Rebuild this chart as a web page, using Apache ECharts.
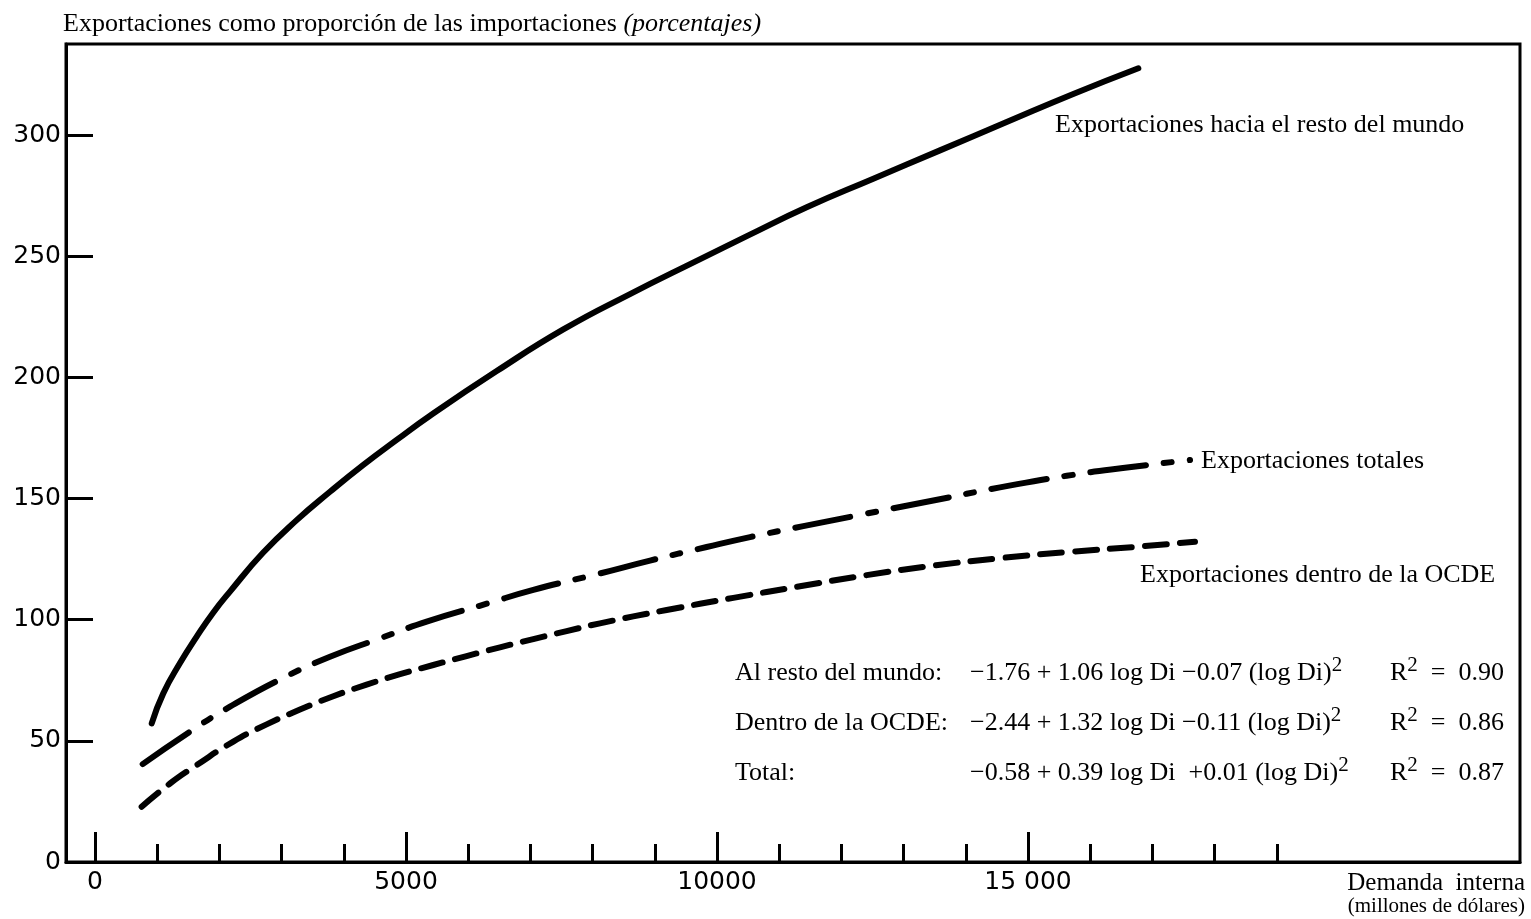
<!DOCTYPE html>
<html><head><meta charset="utf-8">
<script src="https://cdn.jsdelivr.net/npm/echarts@6/dist/echarts.min.js"></script>
<style>html,body{margin:0;padding:0;background:#fff}#c{width:1531px;height:919px}</style>
</head><body><div id="c"></div>
<script>
// ---- data ----
const restoX = [912, 1098, 1367, 1635, 1897, 2170, 2701, 3243, 3778, 4309, 4850, 5386, 6458, 7529, 8601, 9673, 10504, 11442, 12513, 13585, 14657, 15728, 16774];
const restoY = [57.2, 69.6, 82.1, 93.0, 102.8, 111.6, 127.6, 141.1, 152.8, 163.8, 174.2, 184.2, 202.6, 219.8, 234.4, 248.1, 258.6, 270.2, 282.0, 293.7, 305.4, 317.0, 327.6];

const totalX = [767, 1527, 2170, 3028, 3778, 4582, 5332, 6297, 7047, 8119, 8923, 9834, 10531, 11388, 12407, 13478, 14550, 15622, 16693, 17605];
const totalY = [40.4, 53.8, 64.1, 76.0, 84.7, 92.3, 99.2, 106.6, 112.3, 119.1, 124.4, 130.0, 134.1, 138.6, 143.8, 149.2, 154.6, 159.4, 163.1, 165.9];

const ocdeX = [750, 1206, 1635, 2224, 2760, 3296, 3831, 4367, 4904, 5439, 5975, 6511, 7047, 7583, 8119, 9191, 10263, 11334, 12407, 13478, 14550, 15622, 16693, 17685];
const ocdeY = [22.8, 32.4, 40.0, 49.7, 56.8, 62.9, 68.4, 73.2, 77.5, 81.3, 85.0, 88.6, 92.0, 95.3, 98.5, 104.0, 109.0, 113.8, 118.4, 122.3, 125.4, 127.9, 130.0, 132.2];

const yTicks = [0, 50, 100, 150, 200, 250, 300];
const yTickLabels = ['0', '50', '100', '150', '200', '250', '300'];
const xMinorTicks = [0, 1000, 2000, 3000, 4000, 5000, 6000, 7000, 8000, 9000, 10000, 11000, 12000, 13000, 14000, 15000, 16000, 17000, 18000, 19000];
const xMajorTicks = [0, 5000, 10000, 15000];
const xTickLabels = ['0', '5000', '10000', '15 000'];

const titleText = 'Exportaciones como proporción de las importaciones';
const titleUnit = '(porcentajes)';
const xNameLines = ['Demanda  interna', '(millones de dólares)'];
const curveLabels = ['Exportaciones hacia el resto del mundo', 'Exportaciones totales', 'Exportaciones dentro de la OCDE'];
const eqNames = ['Al resto del mundo:', 'Dentro de la OCDE:', 'Total:'];
const eqFormulas = ['−1.76 + 1.06 log Di −0.07 (log Di)', '−2.44 + 1.32 log Di −0.11 (log Di)', '−0.58 + 0.39 log Di  +0.01 (log Di)'];
const eqR2 = ['0.90', '0.86', '0.87'];

// ---- chart ----
const SERIF = '"Liberation Serif", "DejaVu Serif", serif';
const SANS = '"DejaVu Sans", sans-serif';
const pairs = (xs, ys) => xs.map((x, i) => [x, ys[i]]);
const chart = echarts.init(document.getElementById('c'));

const txt = (x, y, text, extra) => ({
  type: 'text', x: x, y: y,
  style: Object.assign({ text: text, fill: '#000', font: '26px ' + SERIF, textVerticalAlign: 'middle' }, extra || {})
});

const graphics = [];
graphics.push({
  type: 'text', x: 63, y: 24,
  style: {
    text: '{a|' + titleText + '}  {i|' + titleUnit + '}',
    verticalAlign: 'middle',
    rich: {
      a: { fontFamily: SERIF, fontSize: 26, color: '#000' },
      i: { fontFamily: SERIF, fontSize: 26, fontStyle: 'italic', color: '#000' }
    }
  }
});
graphics.push(txt(1055, 125, curveLabels[0]));
graphics.push(txt(1201, 461, curveLabels[1]));
graphics.push(txt(1140, 575, curveLabels[2]));
graphics.push(txt(1525, 883, xNameLines[0], { textAlign: 'right', font: '25px ' + SERIF }));
graphics.push(txt(1525, 906, xNameLines[1], { textAlign: 'right', font: '21px ' + SERIF }));

const eqRowY = [673, 723, 773];
const richEq = {
  a: { fontFamily: SERIF, fontSize: 26, lineHeight: 36, color: '#000' },
  s: { fontFamily: SERIF, fontSize: 21, lineHeight: 22, verticalAlign: 'top', color: '#000' }
};
for (let i = 0; i < 3; i++) {
  const y = eqRowY[i];
  graphics.push(txt(735, y, eqNames[i]));
  graphics.push({ type: 'text', x: 970, y: y, style: { text: '{a|' + eqFormulas[i] + '}{s|2}', verticalAlign: 'middle', rich: richEq } });
  graphics.push({ type: 'text', x: 1390, y: y, style: { text: '{a|R}{s|2}{a|  =  ' + eqR2[i] + '}', verticalAlign: 'middle', rich: richEq } });
}

const lineBase = { color: '#000', width: 6, cap: 'round', join: 'round' };

chart.setOption({
  backgroundColor: '#fff',
  animation: false,
  grid: { left: 66, right: 11, top: 44, bottom: 57, show: true, borderColor: '#000', borderWidth: 3 },
  xAxis: [
    {
      type: 'value', min: -466, max: 22910, position: 'bottom',
      axisLine: { show: true, onZero: false, lineStyle: { color: '#000', width: 3 } },
      axisTick: { show: true, inside: true, length: 18, lineStyle: { color: '#000', width: 3 }, customValues: xMinorTicks },
      axisLabel: {
        customValues: xMajorTicks, color: '#000', fontFamily: SANS, fontSize: 25, margin: 8,
        formatter: v => xTickLabels[xMajorTicks.indexOf(v)]
      },
      splitLine: { show: false }
    },
    {
      type: 'value', min: -466, max: 22910, position: 'bottom', offset: 0,
      axisLine: { show: false, onZero: false },
      axisTick: { show: true, inside: true, length: 30, lineStyle: { color: '#000', width: 3 }, customValues: xMajorTicks },
      axisLabel: { show: false },
      splitLine: { show: false }
    }
  ],
  yAxis: {
    type: 'value', min: 0, max: 337.6, position: 'left',
    axisLine: { show: true, onZero: false, lineStyle: { color: '#000', width: 3 } },
    axisTick: { show: true, inside: true, length: 27, lineStyle: { color: '#000', width: 3 }, customValues: yTicks },
    axisLabel: {
      customValues: yTicks, color: '#000', fontFamily: SANS, fontSize: 25, margin: 5,
      formatter: v => yTickLabels[yTicks.indexOf(v)]
    },
    splitLine: { show: false }
  },
  series: [
    { type: 'line', name: curveLabels[0], data: pairs(restoX, restoY), smooth: 0.5, showSymbol: false, symbol: 'none',
      lineStyle: Object.assign({}, lineBase, { type: 'solid' }) },
    { type: 'line', name: curveLabels[1], data: pairs(totalX, totalY), smooth: 0.5, showSymbol: false, symbol: 'none',
      lineStyle: Object.assign({}, lineBase, { type: [56, 18, 8, 18] }) },
    { type: 'line', name: curveLabels[2], data: pairs(ocdeX, ocdeY), smooth: 0.5, showSymbol: false, symbol: 'none',
      lineStyle: Object.assign({}, lineBase, { type: [22, 13] }) }
  ],
  graphic: graphics
});
</script></body></html>
